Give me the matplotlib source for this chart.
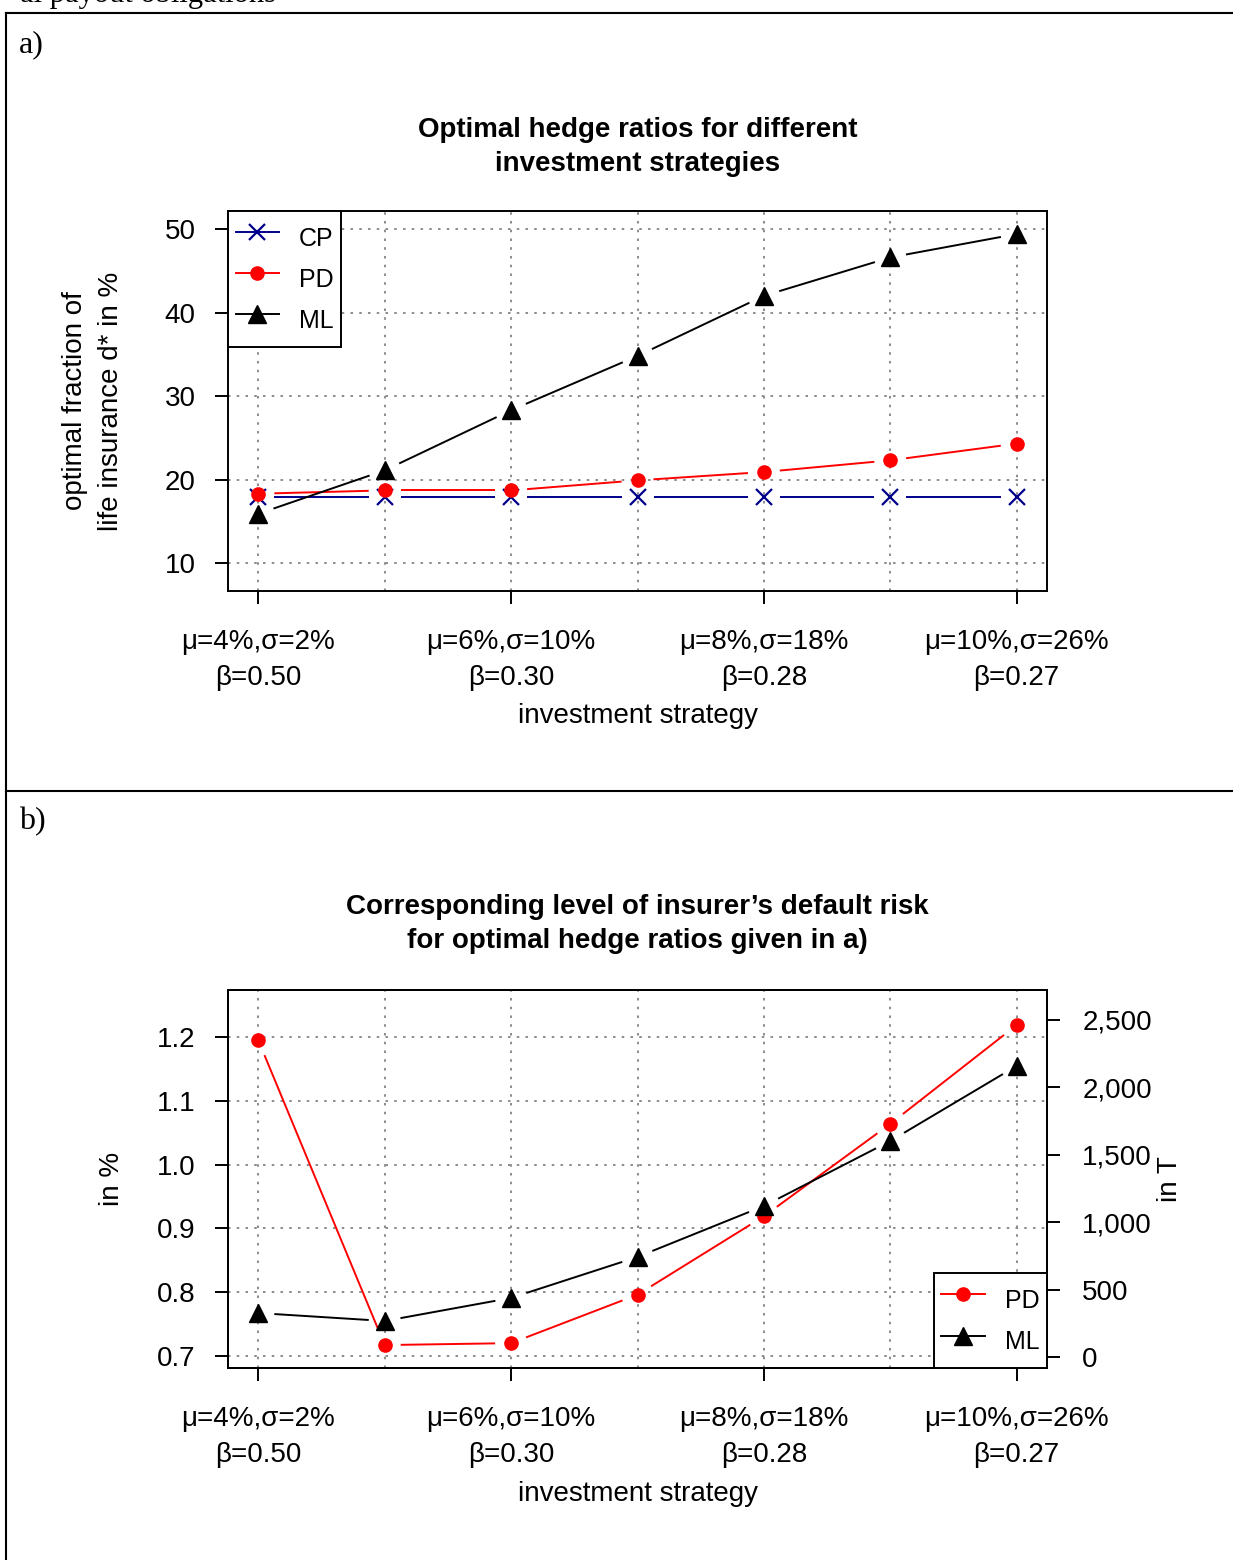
import numpy as np
import matplotlib
matplotlib.use("Agg")
import matplotlib.pyplot as plt
from matplotlib.lines import Line2D

# ---- data ----
strategies = [1, 2, 3, 4, 5, 6, 7]
tick_pos = [1, 3, 5, 7]
tick_labels = ["\u03bc=4%,\u03c3=2%\n\u03b2=0.50", "\u03bc=6%,\u03c3=10%\n\u03b2=0.30",
               "\u03bc=8%,\u03c3=18%\n\u03b2=0.28", "\u03bc=10%,\u03c3=26%\n\u03b2=0.27"]

# panel a: optimal fraction of life insurance (%)
cp_hedge = [17.9, 17.9, 17.9, 17.9, 17.9, 17.9, 17.9]
pd_hedge = [18.3, 18.7, 18.7, 19.9, 20.9, 22.3, 24.3]
ml_hedge = [15.9, 21.1, 28.3, 34.8, 42.0, 46.6, 49.4]
yticks_a = [10, 20, 30, 40, 50]

# panel b: default risk
pd_risk = [1.195, 0.717, 0.720, 0.796, 0.919, 1.064, 1.219]   # in %
ml_risk = [326, 267, 438, 742, 1120, 1602, 2159]              # in T
yticks_b = [0.7, 0.8, 0.9, 1.0, 1.1, 1.2]
yticks_b2 = [0, 500, 1000, 1500, 2000, 2500]
yticks_b2_labels = ["0", "500", "1,000", "1,500", "2,000", "2,500"]

W, H = 1233, 1560
DPI = 100
SANS = "Liberation Sans"
SERIF = "Liberation Serif"
FS = 20
GRID = dict(color="#8c8c8c", linestyle=(0, (1.3, 3.2)), linewidth=1.4)

plt.rcParams["font.family"] = SANS
fig = plt.figure(figsize=(W / DPI, H / DPI), dpi=DPI)


def fx(px):
    return px / W


def fy(py):
    return 1 - py / H


def gapped(ax, xs, ys, color, gap=16):
    # R type="b": line segments stop short of the points
    pts = ax.transData.transform(np.column_stack([xs, ys]))
    inv = ax.transData.inverted()
    for p0, p1 in zip(pts[:-1], pts[1:]):
        d = p1 - p0
        L = np.hypot(*d)
        if L <= 2 * gap:
            continue
        u = d / L
        seg = inv.transform([p0 + u * gap, p1 - u * gap])
        ax.plot(seg[:, 0], seg[:, 1], color=color, lw=1.4, solid_capstyle="butt", zorder=2)


def style_axes(ax):
    for s in ax.spines.values():
        s.set_linewidth(1.4)
    ax.tick_params(direction="out", length=9.4, width=1.4, labelsize=FS, pad=14)
    ax.set_xlim(0.76, 7.24)
    ax.set_xticks(tick_pos)
    ax.set_xticklabels(tick_labels, linespacing=1.5)
    ax.tick_params(axis="x", pad=18)
    ax.set_xticks([2, 4, 6], minor=True)
    ax.tick_params(which="minor", length=0)
    ax.grid(True, which="both", axis="x", **GRID)
    ax.grid(True, which="major", axis="y", **GRID)
    ax.set_axisbelow(True)


def make_legend(ax, handles, loc, anchor):
    leg = ax.legend(handles=handles, loc=loc, bbox_to_anchor=anchor, borderaxespad=0,
                    fontsize=18, fancybox=False, edgecolor="black", framealpha=1,
                    handlelength=1.75, handletextpad=0.8, handleheight=2.0, labelspacing=0.1,
                    borderpad=0.3)
    leg.get_frame().set_linewidth(1.4)
    return leg


mk_cp = dict(marker="x", color="#00008b", ms=11.5, mew=1.6)
mk_pd = dict(marker="o", color="#ff0000", ms=9.5)
mk_ml = dict(marker="^", color="black", ms=13)

# ---- frame lines ----
fig.add_artist(Line2D([fx(6), fx(6)], [fy(13), 0], color="black", lw=1.5))
fig.add_artist(Line2D([fx(6), 1], [fy(13), fy(13)], color="black", lw=1.5))
fig.add_artist(Line2D([fx(6), 1], [fy(791), fy(791)], color="black", lw=1.5))
fig.text(fx(20), fy(2), "al payout obligations", family=SERIF, fontsize=22, va="baseline")
fig.text(fx(19), fy(45), "a)", family=SERIF, fontsize=23, va="center")
fig.text(fx(19), fy(822), "b)", family=SERIF, fontsize=23, va="center")

# ---- panel a ----
axa = fig.add_axes([fx(228), fy(591), fx(819), 380 / H])
style_axes(axa)
axa.set_ylim(6.65, 52.16)
axa.set_yticks(yticks_a)
axa.plot(strategies, cp_hedge, ls="none", zorder=3, **mk_cp)
axa.plot(strategies, pd_hedge, ls="none", zorder=3, **mk_pd)
axa.plot(strategies, ml_hedge, ls="none", zorder=3, **mk_ml)
gapped(axa, strategies, cp_hedge, "#00008b")
gapped(axa, strategies, pd_hedge, "#ff0000")
gapped(axa, strategies, ml_hedge, "black")
handles_a = [Line2D([], [], lw=1.4, label="CP", **mk_cp),
             Line2D([], [], lw=1.4, label="PD", **mk_pd),
             Line2D([], [], lw=1.4, label="ML", **mk_ml)]
make_legend(axa, handles_a, "upper left", (0, 1))

fig.text(fx(637.5), fy(147), "Optimal hedge ratios for different\ninvestment strategies",
         ha="center", va="center", fontsize=FS, fontweight="bold", linespacing=1.38)
fig.text(fx(638), fy(716), "investment strategy", ha="center", va="center", fontsize=FS)
fig.text(fx(93.5), fy(401), "optimal fraction of\nlife insurance d* in %", ha="center", va="center",
         rotation=90, fontsize=FS, linespacing=1.5)

# ---- panel b ----
axb = fig.add_axes([fx(228), fy(1368), fx(819), 378 / H])
style_axes(axb)
axb.set_ylim(0.681, 1.274)
axb.set_yticks(yticks_b)
axb.set_yticklabels([f"{v:.1f}" for v in yticks_b])
ax2 = axb.twinx()
ax2.set_ylim(-81.6, 2722)
ax2.set_yticks(yticks_b2)
ax2.set_yticklabels(yticks_b2_labels)
ax2.tick_params(direction="out", length=9.4, width=1.4, labelsize=FS, pad=16)
for s in ax2.spines.values():
    s.set_linewidth(1.4)

axb.plot(strategies, pd_risk, ls="none", zorder=3, **mk_pd)
gapped(axb, strategies, pd_risk, "#ff0000")
ax2.plot(strategies, ml_risk, ls="none", zorder=3, **mk_ml)
gapped(ax2, strategies, ml_risk, "black")
handles_b = [Line2D([], [], lw=1.4, label="PD", **mk_pd),
             Line2D([], [], lw=1.4, label="ML", **mk_ml)]
make_legend(ax2, handles_b, "lower right", (1, 0))

fig.text(fx(637.5), fy(924), "Corresponding level of insurer\u2019s default risk\nfor optimal hedge ratios given in a)",
         ha="center", va="center", fontsize=FS, fontweight="bold", linespacing=1.38)
fig.text(fx(638), fy(1494), "investment strategy", ha="center", va="center", fontsize=FS)
fig.text(fx(112), fy(1179), "in %", ha="center", va="center", rotation=90, fontsize=FS)
fig.text(fx(1170), fy(1179), "in T", ha="center", va="center", rotation=90, fontsize=FS)

fig.savefig("out.png", dpi=DPI)
